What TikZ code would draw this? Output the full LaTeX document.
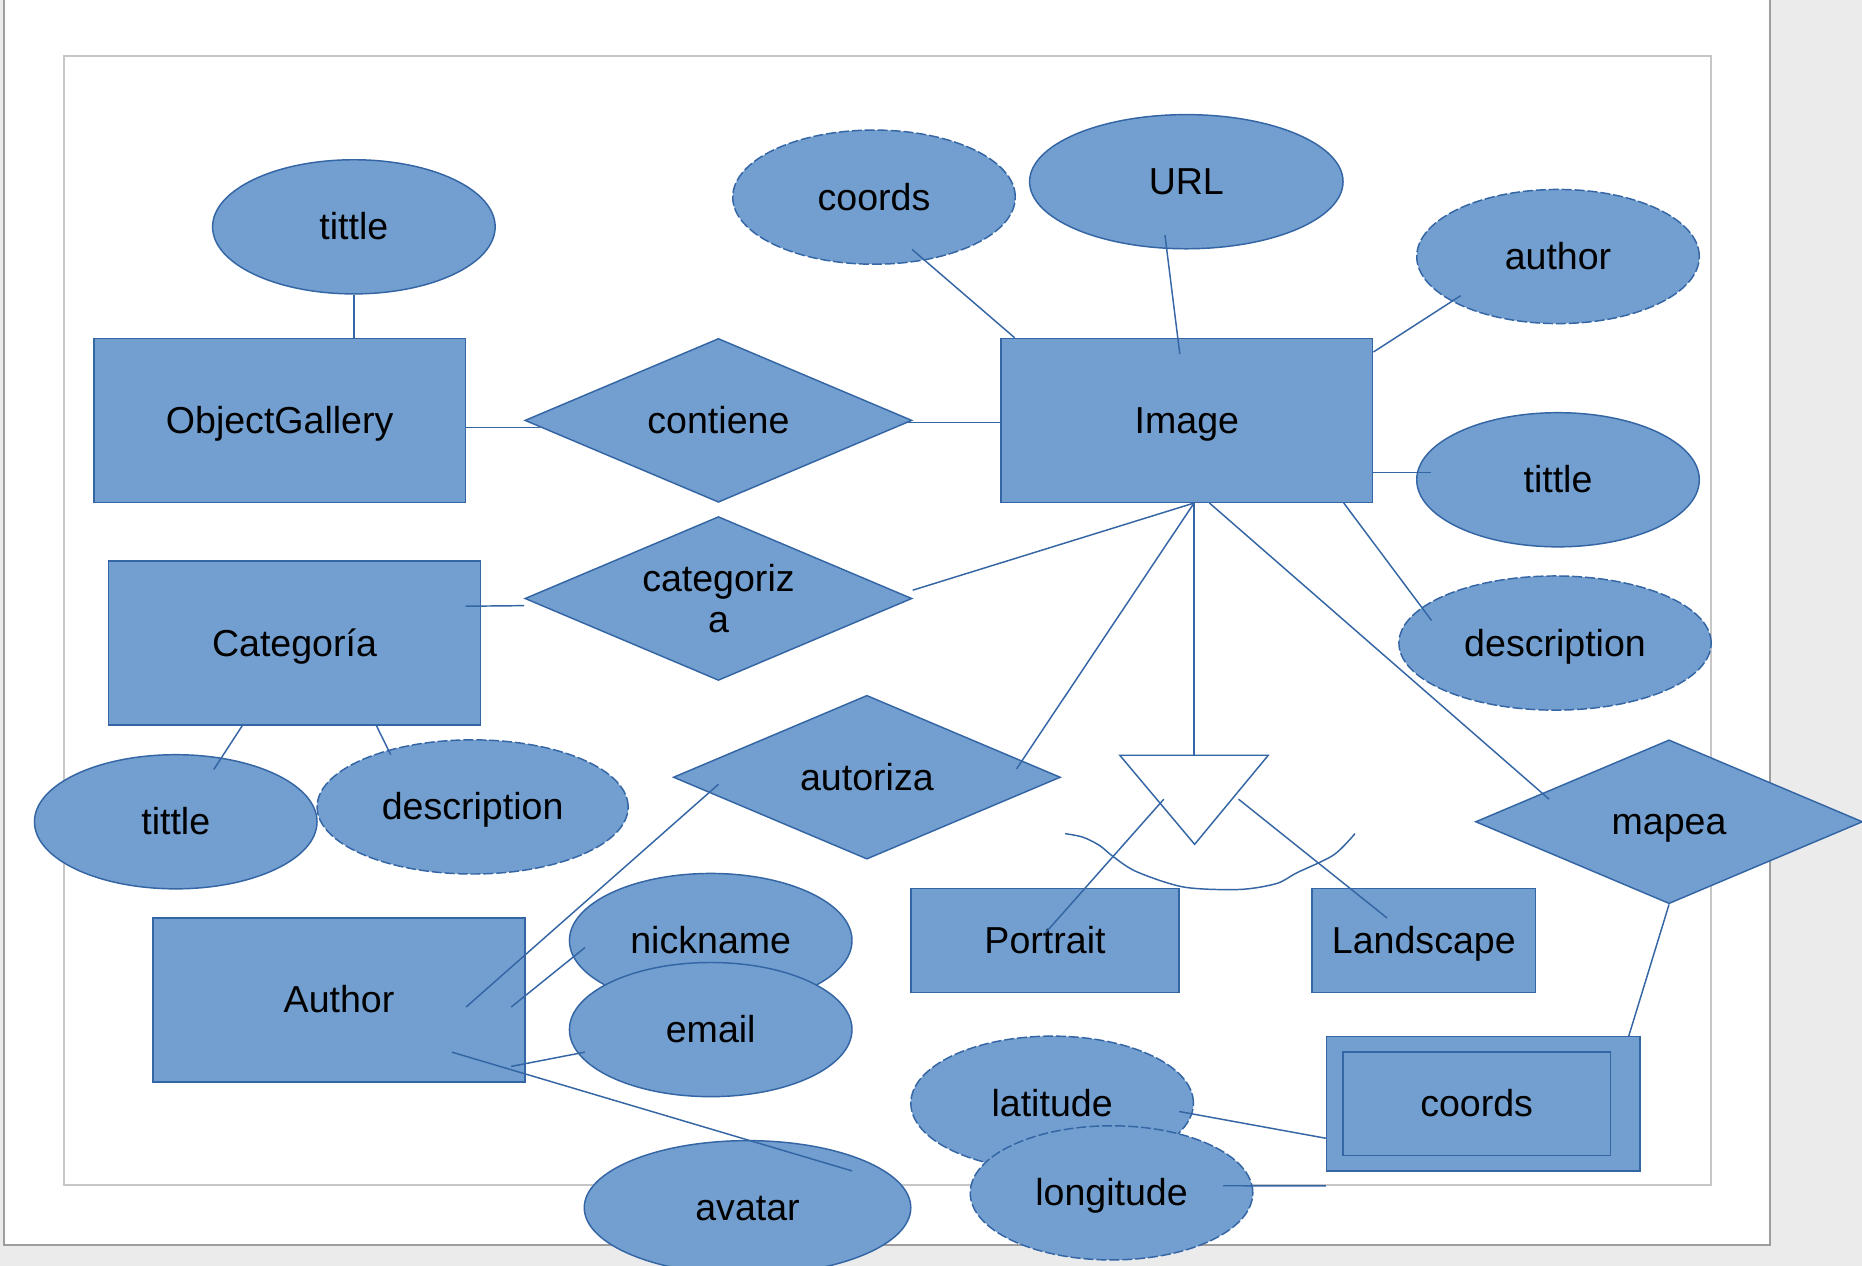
\documentclass[tikz,border=0pt]{standalone}
\usepackage{fontspec}
\setmainfont{Liberation Sans}
\usetikzlibrary{shapes.geometric}
\definecolor{erfill}{HTML}{729FCF}
\definecolor{erline}{HTML}{3465A4}
\definecolor{deskgray}{HTML}{EBEBEB}
\definecolor{edgegray}{HTML}{9E9E9E}
\definecolor{margingray}{HTML}{C6C6C6}
\begin{document}
\begin{tikzpicture}[x=0.02cm,y=-0.02cm,
  font=\fontsize{18}{20}\selectfont,
  oneline/.style={text height=16.3pt,text depth=3.8pt},
  entity/.style={draw=erline,fill=erfill,line width=0.7pt,inner sep=0pt,oneline,minimum width=6.26cm,minimum height=2.76cm},
  relbase/.style={diamond,draw=erline,fill=erfill,line width=0.7pt,inner sep=0pt,aspect=2.36,minimum width=6.52cm,minimum height=2.76cm,align=center},
  relation/.style={relbase,oneline},
  attrib/.style={ellipse,draw=erline,fill=erfill,line width=0.7pt,inner sep=0pt,oneline,minimum width=4.76cm,minimum height=2.26cm},
  derived/.style={attrib,dash pattern=on 4.8pt off 1.4pt},
  link/.style={draw=erline,line width=0.7pt}]
% page
\fill[deskgray] (0,0) rectangle (1568,1066);
\useasboundingbox (0,0) rectangle (1568,1066);
\draw[edgegray,line width=1.2pt,fill=white] (3.5,-5) -- (3.5,1048.5) -- (1490.5,1048.5) -- (1490.5,-5);
\draw[margingray,line width=0.9pt] (54,47) rectangle (1441,998);
% entities, relations, attributes
\node[attrib] (ogtit) at (298,191) {tittle};
\node[entity] (og) at (235.5,354) {ObjectGallery};
\node[relation] (rcont) at (605,354) {contiene};
\node[entity] (img) at (999.5,354) {Image};
\node[derived] (imcrd) at (736,166) {coords};
\node[attrib,minimum width=5.28cm] (url) at (999,153) {URL};
\node[derived] (imaut) at (1312,216) {author};
\node[attrib] (imtit) at (1312,404) {tittle};
\node[derived,minimum width=5.26cm] (imdesc) at (1309.5,541.5) {description};
\node[entity] (cat) at (248,541.5) {Categoría};
\node[relbase] (rcat) at (605,504) {categoriz\\a};
\node[attrib] (cattit) at (148,692) {tittle};
\node[derived,minimum width=5.24cm] (catdesc) at (398,679.5) {description};
\node[relation] (raut) at (730,654.5) {autoriza};
\node[relation] (rmap) at (1405.5,692) {mapea};
\node[entity] (aut) at (285.5,842) {Author};
\node[attrib] (nick) at (598.5,792) {nickname};
\node[attrib] (mail) at (598.5,867) {email};
\node[attrib,minimum width=5.5cm] (avat) at (629.5,1017) {avatar};
\node[entity,minimum width=4.52cm,minimum height=1.76cm] (por) at (880,792) {Portrait};
\node[entity,minimum width=3.76cm,minimum height=1.76cm] (lan) at (1199,792) {Landscape};
\node[entity,minimum width=5.28cm,minimum height=2.26cm] (crd) at (1249,929.5) {};
\node[entity,minimum width=4.5cm,minimum height=1.74cm] (crdin) at (1243.5,929.5) {coords};
\node[derived] (lat) at (886,929) {latitude};
\node[derived] (lon) at (936,1004.5) {longitude};
% is-a triangle
\coordinate (isl) at (943,636);
\coordinate (isr) at (1068,636);
\coordinate (isb) at (1006,711);
\coordinate (ist) at (1005.5,636);
\coordinate (isp) at (980,673);
\coordinate (isq) at (1043,673);
\draw[link,fill=white] (isl) -- (isr) -- (isb) -- cycle;
% connectors
\draw[link] (ogtit.south) -- (ogtit.south |- og.north);
\draw[link] ([shift={(0,6)}]og.east) -- ([shift={(13,6)}]rcont.west);
\draw[link] ([shift={(-6,2)}]rcont.east) -- ([shift={(0,2)}]img.west);
\draw[link] ([shift={(32,44)}]imcrd.center) -- ([shift={(12,0)}]img.north west);
\draw[link] ([shift={(-18,45)}]url.center) -- ([shift={(-6,-56)}]img.center);
\draw[link] ([shift={(-82,33)}]imaut.center) -- ([shift={(0,12)}]img.north east);
\draw[link] ([shift={(-107,-6)}]imtit.center) -- ([shift={(0,44)}]img.east);
\draw[link] ([shift={(-104,-19)}]imdesc.center) -- ([shift={(-25,0)}]img.south east);
\draw[link] ([shift={(144,-31)}]cat.center) -- ([shift={(0,6)}]rcat.west);
\draw[link] ([shift={(0,-7)}]rcat.east) -- ([shift={(6,0)}]img.south);
\draw[link] ([shift={(126,-7)}]raut.center) -- ([shift={(6,0)}]img.south);
\draw[link] ([shift={(6,0)}]img.south) -- (ist);
\draw[link] ([shift={(19,0)}]img.south) -- ([shift={(-101,-19)}]rmap.center);
\draw[link] ([shift={(-44,0)}]cat.south) -- ([shift={(32,-44)}]cattit.center);
\draw[link] ([shift={(69,0)}]cat.south) -- ([shift={(-69,-44)}]catdesc.center);
\draw[link] ([shift={(-125,6)}]raut.center) -- ([shift={(107,6)}]aut.center);
\draw[link] ([shift={(145,6)}]aut.center) -- ([shift={(-106,6)}]nick.center);
\draw[link] ([shift={(145,56)}]aut.center) -- ([shift={(-106,19)}]mail.center);
\draw[link] ([shift={(95,44)}]aut.center) -- ([shift={(88,-31)}]avat.center);
\draw[link] (isp) -- ([shift={(0,-6)}]por.center);
\draw[link] (isq) -- ([shift={(-31,-19)}]lan.center);
\draw[link] plot[smooth] coordinates {(897,702) (912,705) (926,712) (937,721) (957,734) (997,747) (1044,749) (1075,744) (1092,735) (1123,720) (1141,702)};
\draw[link] (rmap.south) -- ([shift={(-10,0)}]crd.north east);
\draw[link] ([shift={(107,7)}]lat.center) -- ([shift={(0,29)}]crd.west);
\draw[link] ([shift={(94,-6)}]lon.center) -- ([shift={(0,12)}]crd.south west);
\end{tikzpicture}
\end{document}
